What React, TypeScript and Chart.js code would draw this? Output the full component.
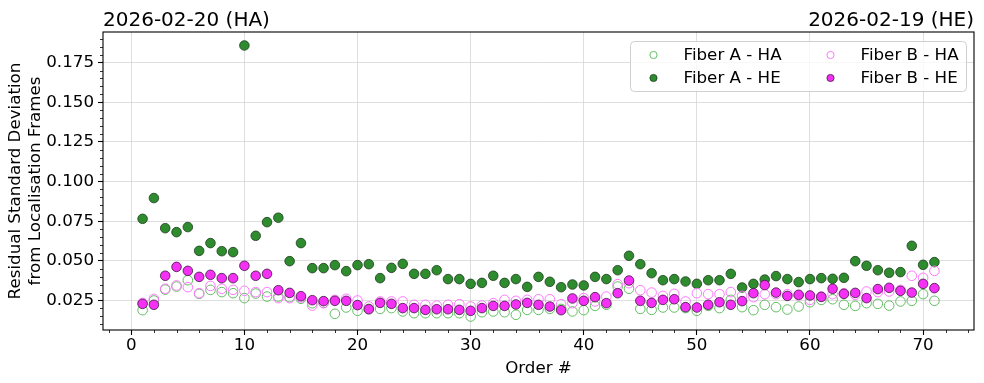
import React, { useEffect, useRef } from "react";
import { Chart, registerables } from "chart.js";

Chart.register(...registerables);

const FONT = "'DejaVu Sans', 'Liberation Sans', sans-serif";

const orders = [
  1, 2, 3, 4, 5, 6, 7, 8, 9, 10, 11, 12, 13, 14, 15, 16, 17, 18, 19, 20,
  21, 22, 23, 24, 25, 26, 27, 28, 29, 30, 31, 32, 33, 34, 35, 36, 37, 38, 39, 40,
  41, 42, 43, 44, 45, 46, 47, 48, 49, 50, 51, 52, 53, 54, 55, 56, 57, 58, 59, 60,
  61, 62, 63, 64, 65, 66, 67, 68, 69, 70, 71,
];

const fiberA_HA = [
  0.0189, 0.025, 0.0319, 0.0338, 0.0378, 0.0292, 0.0317, 0.0303, 0.0296, 0.0265,
  0.0294, 0.0275, 0.0275, 0.0271, 0.0261, 0.0233, 0.0235, 0.0166, 0.0206, 0.0185,
  0.0197, 0.0197, 0.0202, 0.0181, 0.017, 0.017, 0.017, 0.017, 0.017, 0.0149,
  0.0176, 0.0181, 0.0176, 0.016, 0.0191, 0.0191, 0.0197, 0.0197, 0.0181, 0.0189,
  0.0216, 0.0223, 0.0338, 0.0324, 0.0197, 0.0191, 0.0206, 0.0206, 0.0202, 0.0185,
  0.0216, 0.0202, 0.0254, 0.0208, 0.0189, 0.0223, 0.0208, 0.0193, 0.0212, 0.0239,
  0.0254, 0.0258, 0.0223, 0.0216, 0.0233, 0.0229, 0.0218, 0.0244, 0.0248, 0.029,
  0.0248,
];

const fiberA_HE = [
  0.0765, 0.0896, 0.0706, 0.0681, 0.0713, 0.0563, 0.0612, 0.0561, 0.0555, 0.1858,
  0.0658, 0.0744, 0.0772, 0.0498, 0.0612, 0.0454, 0.0454, 0.0473, 0.0435, 0.0473,
  0.0479, 0.0391, 0.0456, 0.0481, 0.0418, 0.0418, 0.0441, 0.0385, 0.0385, 0.0355,
  0.0361, 0.0406, 0.0361, 0.0385, 0.0336, 0.0399, 0.0368, 0.0334, 0.0351, 0.0345,
  0.0399, 0.0385, 0.0441, 0.0532, 0.0479, 0.0422, 0.0378, 0.0385, 0.037, 0.0355,
  0.0378, 0.0378, 0.0418, 0.0332, 0.0355, 0.0382, 0.0404, 0.0385, 0.0366, 0.0385,
  0.0391, 0.0387, 0.0393, 0.0498, 0.0469, 0.0441, 0.0425, 0.0429, 0.0595, 0.0475,
  0.0492,
];

const fiberB_HA = [
  0.0235, 0.026, 0.0324, 0.0345, 0.0334, 0.0296, 0.0342, 0.0324, 0.0317, 0.0311,
  0.0303, 0.0303, 0.0265, 0.0265, 0.0269, 0.0218, 0.0233, 0.0254, 0.0261, 0.025,
  0.0212, 0.0244, 0.0244, 0.0244, 0.0223, 0.0223, 0.0218, 0.0223, 0.0227, 0.0212,
  0.0218, 0.0233, 0.0254, 0.0248, 0.0254, 0.0258, 0.0258, 0.0227, 0.0233, 0.0265,
  0.0244, 0.0275, 0.0353, 0.0359, 0.0315, 0.03, 0.0279, 0.0292, 0.0244, 0.0296,
  0.029, 0.029, 0.0303, 0.0279, 0.0271, 0.029, 0.029, 0.029, 0.0282, 0.0254,
  0.0275, 0.029, 0.0296, 0.0286, 0.0307, 0.0303, 0.0307, 0.0317, 0.0406, 0.0393,
  0.0437,
];

const fiberB_HE = [
  0.0229, 0.0223, 0.0406, 0.0462, 0.0437, 0.0399, 0.0412, 0.0391, 0.0391, 0.0469,
  0.0406, 0.0418, 0.0315, 0.0298, 0.0277, 0.0252, 0.0246, 0.0248, 0.0248, 0.0221,
  0.0195, 0.0235, 0.0229, 0.0202, 0.0202, 0.0191, 0.0195, 0.0195, 0.0191, 0.0185,
  0.0202, 0.0216, 0.0216, 0.0225, 0.0235, 0.0223, 0.0212, 0.0189, 0.0263, 0.0248,
  0.0271, 0.0233, 0.0296, 0.0376, 0.0248, 0.0235, 0.0254, 0.0258, 0.0208, 0.0206,
  0.0223, 0.0239, 0.0223, 0.0246, 0.0296, 0.0347, 0.03, 0.0279, 0.0286, 0.0282,
  0.0273, 0.0324, 0.0292, 0.0298, 0.0265, 0.0322, 0.033, 0.0311, 0.03, 0.0355,
  0.0328,
];

const xTickValues = [0, 10, 20, 30, 40, 50, 60, 70];
const yTickValues = [0.025, 0.05, 0.075, 0.1, 0.125, 0.15, 0.175];
const xMinorTicks = [-2, 2, 4, 6, 8, 12, 14, 16, 18, 22, 24, 26, 28, 32, 34, 36, 38, 42, 44, 46, 48, 52, 54, 56, 58, 62, 64, 66, 68, 72, 74];
const yMinorTicks = [0.01, 0.015, 0.02, 0.03, 0.035, 0.04, 0.045, 0.055, 0.06, 0.065, 0.07, 0.08, 0.085, 0.09, 0.095, 0.105, 0.11, 0.115, 0.12, 0.13, 0.135, 0.14, 0.145, 0.155, 0.16, 0.165, 0.17, 0.18, 0.185, 0.19];

const titleLeft = "2026-02-20 (HA)";
const titleRight = "2026-02-19 (HE)";

const seriesStyles = [
  { label: "Fiber A - HA", data: fiberA_HA, bg: "rgba(0,0,0,0)", border: "#62bd62", bw: 1 },
  { label: "Fiber A - HE", data: fiberA_HE, bg: "#2e8b2e", border: "#1d3d1d", bw: 0.8 },
  { label: "Fiber B - HA", data: fiberB_HA, bg: "rgba(0,0,0,0)", border: "#ff77ff", bw: 1 },
  { label: "Fiber B - HE", data: fiberB_HE, bg: "#f530f5", border: "#3d1a3d", bw: 0.8 },
];

const decorPlugin = {
  id: "decor",
  afterDraw(chart: any) {
    const { ctx, chartArea } = chart;
    const { left, right, top, bottom } = chartArea;
    const xs = chart.scales.x;
    const ys = chart.scales.y;
    ctx.save();
    // frame
    ctx.strokeStyle = "#000";
    ctx.lineWidth = 1.1;
    ctx.strokeRect(left, top, right - left, bottom - top);
    // minor ticks
    ctx.lineWidth = 0.8;
    ctx.beginPath();
    xMinorTicks.forEach((v) => {
      const px = Math.round(xs.getPixelForValue(v)) + 0.5;
      ctx.moveTo(px, bottom);
      ctx.lineTo(px, bottom + 3);
    });
    yMinorTicks.forEach((v) => {
      const py = Math.round(ys.getPixelForValue(v)) + 0.5;
      ctx.moveTo(left, py);
      ctx.lineTo(left - 3, py);
    });
    ctx.stroke();
    // titles
    ctx.fillStyle = "#000";
    ctx.font = `20px ${FONT}`;
    ctx.textBaseline = "alphabetic";
    ctx.textAlign = "left";
    ctx.fillText(titleLeft, left, top - 6);
    ctx.textAlign = "right";
    ctx.fillText(titleRight, right, top - 6);
    // legend
    const bx = right - 343.5;
    const by = top + 9.5;
    const bw = 336;
    const bh = 50;
    ctx.beginPath();
    ctx.roundRect(bx, by, bw, bh, 4);
    ctx.fillStyle = "rgba(255,255,255,0.8)";
    ctx.fill();
    ctx.strokeStyle = "#d0d0d0";
    ctx.lineWidth = 1;
    ctx.stroke();
    ctx.font = `16.7px ${FONT}`;
    ctx.textAlign = "left";
    ctx.textBaseline = "middle";
    const cols = [bx + 23, bx + 200];
    const rows = [by + 13.5, by + 36.5];
    seriesStyles.forEach((s, i) => {
      const cx = cols[Math.floor(i / 2)];
      const cy = rows[i % 2];
      ctx.beginPath();
      ctx.arc(cx, cy, 3.6, 0, Math.PI * 2);
      if (s.bg !== "rgba(0,0,0,0)") {
        ctx.fillStyle = s.bg;
        ctx.fill();
      }
      ctx.strokeStyle = s.border;
      ctx.lineWidth = s.bw;
      ctx.stroke();
      ctx.fillStyle = "#000";
      ctx.fillText(s.label, cx + 30, cy + 1);
    });
    ctx.restore();
  },
};

export default function App() {
  const ref = useRef<HTMLCanvasElement>(null);
  useEffect(() => {
    if (!ref.current) return;
    const datasets = seriesStyles.map((s, i) => ({
      label: s.label,
      data: orders.map((o, j) => ({ x: o, y: s.data[j] })),
      backgroundColor: s.bg,
      borderColor: s.border,
      borderWidth: s.bw,
      pointRadius: 4.8,
      pointHoverRadius: 4.8,
      order: 3 - i,
    }));
    const chart = new Chart(ref.current, {
      type: "scatter",
      data: { datasets },
      plugins: [decorPlugin],
      options: {
        responsive: false,
        animation: false,
        layout: { padding: { left: 0, top: 32, right: 10, bottom: 0 } },
        plugins: {
          legend: { display: false },
          tooltip: { enabled: false },
          title: { display: false },
        },
        scales: {
          x: {
            type: "linear",
            min: -2.5,
            max: 74.5,
            afterBuildTicks: (s: any) => {
              s.ticks = xTickValues.map((v) => ({ value: v }));
            },
            afterFit: (s: any) => {
              s.height = 53;
            },
            grid: { color: "#d6d6d6", lineWidth: 0.8, tickColor: "#000", tickLength: 5, tickWidth: 1.1 },
            border: { display: false },
            ticks: {
              color: "#000",
              font: { family: FONT, size: 16.7 },
              padding: 1,
              maxRotation: 0,
              autoSkip: false,
              callback: (v: any) => String(v),
            },
            title: {
              display: true,
              text: "Order #",
              color: "#000",
              font: { family: FONT, size: 16.7 },
              padding: { top: 0, bottom: 4 },
            },
          },
          y: {
            type: "linear",
            min: 0.0064,
            max: 0.1943,
            afterBuildTicks: (s: any) => {
              s.ticks = yTickValues.map((v) => ({ value: v }));
            },
            afterFit: (s: any) => {
              s.width = 103;
            },
            grid: { color: "#d6d6d6", lineWidth: 0.8, tickColor: "#000", tickLength: 5, tickWidth: 1.1 },
            border: { display: false },
            ticks: {
              color: "#000",
              font: { family: FONT, size: 16.7 },
              padding: 4,
              autoSkip: false,
              callback: (v: any) => Number(v).toFixed(3),
            },
            title: {
              display: true,
              text: ["Residual Standard Deviation", "from Localisation Frames"],
              color: "#000",
              font: { family: FONT, size: 16.7, lineHeight: 1.2 },
              padding: { top: 6, bottom: 4 },
            },
          },
        },
      },
    });
    return () => chart.destroy();
  }, []);
  return (
    <canvas
      ref={ref}
      width={984}
      height={383}
      style={{ position: "absolute", left: 0, top: 0, width: 984, height: 383 }}
    />
  );
}
